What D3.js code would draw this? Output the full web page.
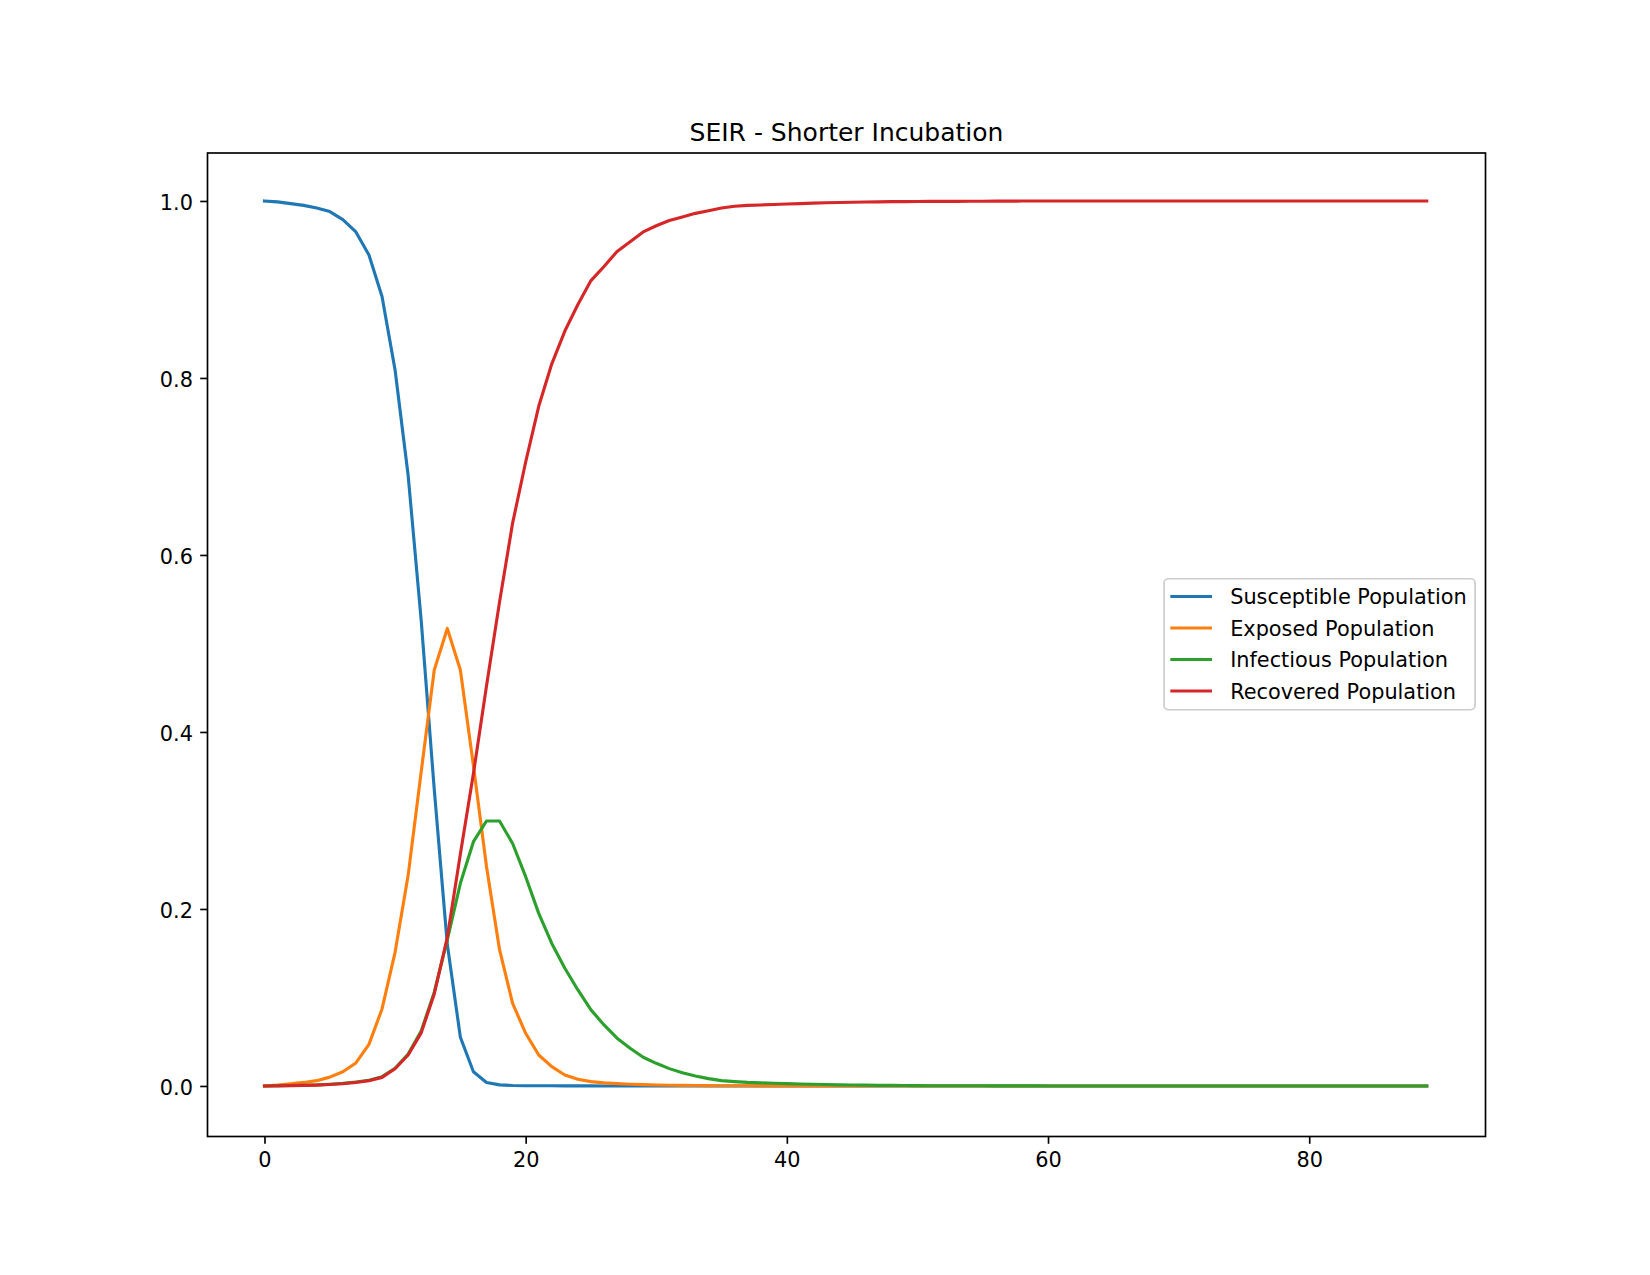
<!DOCTYPE html>
<html>
<head>
<meta charset="utf-8">
<script src="https://cdn.jsdelivr.net/npm/d3@7"></script>
<style>
body { margin: 0; background: #fff; }
svg { display: block; font-family: 'DejaVu Sans', sans-serif; }
</style>
</head>
<body>
<svg></svg>
<script>
let days = [
    0, 1, 2, 3, 4, 5, 6, 7, 8, 9, 10, 11, 12, 13, 14, 15, 16, 17, 18, 19,
    20, 21, 22, 23, 24, 25, 26, 27, 28, 29, 30, 31, 32, 33, 34, 35, 36, 37, 38, 39,
    40, 41, 42, 43, 44, 45, 46, 47, 48, 49, 50, 51, 52, 53, 54, 55, 56, 57, 58, 59,
    60, 61, 62, 63, 64, 65, 66, 67, 68, 69, 70, 71, 72, 73, 74, 75, 76, 77, 78, 79,
    80, 81, 82, 83, 84, 85, 86, 87, 88, 89
]

let susceptible = [
    1.0, 0.999, 0.997, 0.995, 0.992, 0.988, 0.979, 0.965, 0.939, 0.892,
    0.809, 0.690, 0.526, 0.335, 0.160, 0.055, 0.016, 0.004, 0.0012, 0.0005,
    0.0003, 0.0002, 0.0002, 0.0001, 0.0001, 0.0001, 0, 0, 0, 0,
    0, 0, 0, 0, 0, 0, 0, 0, 0, 0,
    0, 0, 0, 0, 0, 0, 0, 0, 0, 0,
    0, 0, 0, 0, 0, 0, 0, 0, 0, 0,
    0, 0, 0, 0, 0, 0, 0, 0, 0, 0,
    0, 0, 0, 0, 0, 0, 0, 0, 0, 0,
    0, 0, 0, 0, 0, 0, 0, 0, 0, 0
]

let exposed = [
    0, 0.001, 0.0025, 0.004, 0.006, 0.010, 0.016, 0.026, 0.047, 0.087,
    0.151, 0.238, 0.355, 0.470, 0.517, 0.470, 0.362, 0.248, 0.154, 0.0934,
    0.0595, 0.035, 0.0218, 0.0124, 0.0075, 0.0049, 0.0035, 0.0026, 0.002, 0.0015,
    0.0011, 0.0008, 0.0006, 0.0005, 0.0004, 0.0003, 0.0002, 0.0002, 0.0001, 0.0001,
    0.0001, 0, 0, 0, 0, 0, 0, 0, 0, 0,
    0, 0, 0, 0, 0, 0, 0, 0, 0, 0,
    0, 0, 0, 0, 0, 0, 0, 0, 0, 0,
    0, 0, 0, 0, 0, 0, 0, 0, 0, 0,
    0, 0, 0, 0, 0, 0, 0, 0, 0, 0
]

let infectious = [
    0, 0.0002, 0.0005, 0.0008, 0.0012, 0.002, 0.003, 0.0045, 0.0065, 0.0105,
    0.020, 0.036, 0.062, 0.106, 0.165, 0.229, 0.276, 0.2994, 0.2994, 0.274,
    0.2365, 0.195, 0.161, 0.133, 0.1085, 0.086, 0.069, 0.054, 0.0426, 0.0324,
    0.0256, 0.0196, 0.015, 0.0113, 0.0083, 0.006, 0.0049, 0.004, 0.0035, 0.003,
    0.0026, 0.0022, 0.0019, 0.0016, 0.0013, 0.0011, 0.0009, 0.0007, 0.0006, 0.0005,
    0.0004, 0.0003, 0.0003, 0.0002, 0.0002, 0.0002, 0.0001, 0.0001, 0.0001, 0.0001,
    0, 0, 0, 0, 0, 0, 0, 0, 0, 0,
    0, 0, 0, 0, 0, 0, 0, 0, 0, 0,
    0, 0, 0, 0, 0, 0, 0, 0, 0, 0
]

let recovered = [
    0, 0.0001, 0.0004, 0.0006, 0.001, 0.0017, 0.0025, 0.004, 0.006, 0.0097,
    0.0195, 0.035, 0.060, 0.104, 0.168, 0.262, 0.353, 0.452, 0.547, 0.636,
    0.705, 0.768, 0.816, 0.853, 0.883, 0.910, 0.926, 0.943, 0.954, 0.965,
    0.972, 0.978, 0.982, 0.986, 0.989, 0.992, 0.994, 0.995, 0.9955, 0.996,
    0.9966, 0.997, 0.9975, 0.998, 0.9983, 0.9986, 0.9988, 0.999, 0.9992, 0.9993,
    0.9994, 0.9995, 0.9996, 0.9996, 0.9997, 0.9997, 0.9998, 0.9998, 0.9999, 0.9999,
    1, 1, 1, 1, 1, 1, 1, 1, 1, 1,
    1, 1, 1, 1, 1, 1, 1, 1, 1, 1,
    1, 1, 1, 1, 1, 1, 1, 1, 1, 1
]

let seriesNames = [
    'Susceptible Population', 'Exposed Population',
    'Infectious Population', 'Recovered Population'
]
let seriesColors = ['#1f77b4', '#ff7f0e', '#2ca02c', '#d62728']
let xTicks = [0, 20, 40, 60, 80]
let yTicks = [0, 0.2, 0.4, 0.6, 0.8, 1.0]
let title = 'SEIR - Shorter Incubation'

let width = 1650
let height = 1275
// matplotlib-ish geometry at 150 dpi
let pt = 150 / 72
let fontSize = 10 * pt
let margin = { left: 207.5, top: 153, right: 1485.5, bottom: 1136.5 }

let svg = d3.select('svg')
    .attr('width', width)
    .attr('height', height)

let x = d3.scaleLinear()
    .domain([-4.364, 93.5])
    .range([margin.left, margin.right])
let y = d3.scaleLinear()
    .domain([-0.0571, 1.0542])
    .range([margin.bottom, margin.top])

let series = [susceptible, exposed, infectious, recovered].map((values, i) => ({
    name: seriesNames[i],
    color: seriesColors[i],
    points: days.map((d, j) => ({ day: d, value: values[j] }))
}))

let line = d3.line()
    .x(d => x(d.day))
    .y(d => y(d.value))

svg.append('g').selectAll('path')
    .data(series).enter()
    .append('path')
    .attr('fill', 'none')
    .attr('stroke', d => d.color)
    .attr('stroke-width', 1.5 * pt)
    .attr('stroke-linejoin', 'round')
    .attr('stroke-linecap', 'square')
    .attr('d', d => line(d.points))

// axes
let xAxis = svg.append('g')
    .attr('transform', `translate(0,${margin.bottom})`)
    .call(d3.axisBottom(x)
        .tickValues(xTicks)
        .tickSize(3.5 * pt)
        .tickPadding(3.5 * pt)
        .tickFormat(d3.format('d')))
let yAxis = svg.append('g')
    .attr('transform', `translate(${margin.left},0)`)
    .call(d3.axisLeft(y)
        .tickValues(yTicks)
        .tickSize(3.5 * pt)
        .tickPadding(3.5 * pt)
        .tickFormat(d3.format('.1f')))

;[xAxis, yAxis].forEach(a => {
    a.select('.domain').remove()
    a.selectAll('line').attr('stroke', '#000').attr('stroke-width', 0.8 * pt)
    a.selectAll('text')
        .attr('fill', '#000')
        .style('font-size', fontSize + 'px')
        .style('font-family', "'DejaVu Sans', sans-serif")
})
xAxis.selectAll('text').attr('dy', '0.76em')
yAxis.selectAll('text').attr('dy', '0.41em')

svg.append('rect')
    .attr('x', margin.left)
    .attr('y', margin.top)
    .attr('width', margin.right - margin.left)
    .attr('height', margin.bottom - margin.top)
    .attr('fill', 'none')
    .attr('stroke', '#000')
    .attr('stroke-width', 0.8 * pt)

svg.append('text')
    .attr('x', (margin.left + margin.right) / 2)
    .attr('y', margin.top - 6 * pt + 0.5)
    .attr('text-anchor', 'middle')
    .style('font-size', 12 * pt + 'px')
    .attr('fill', '#000')
    .text(title)

// legend, center right
let legend = svg.append('g')
let legendBox = legend.append('rect')
let rowGap = 31.5
let cy = (margin.top + margin.bottom) / 2
let firstRow = cy - 49.3
let labels = legend.selectAll('text')
    .data(series).enter()
    .append('text')
    .attr('y', (d, i) => firstRow + i * rowGap + 9)
    .style('font-size', fontSize + 'px')
    .attr('fill', '#000')
    .text(d => d.name)
let maxText = d3.max(labels.nodes(), n => n.getComputedTextLength())
let boxRight = margin.right - 0.5 * fontSize
let textX = boxRight - 0.4 * fontSize - maxText
let handleX = textX - 0.8 * fontSize - 2 * fontSize - 1.5
let boxLeft = handleX - 0.3 * fontSize
labels.attr('x', textX)
legend.selectAll('line')
    .data(series).enter()
    .append('line')
    .attr('x1', handleX)
    .attr('x2', handleX + 2 * fontSize)
    .attr('y1', (d, i) => firstRow + i * rowGap + 1)
    .attr('y2', (d, i) => firstRow + i * rowGap + 1)
    .attr('stroke', d => d.color)
    .attr('stroke-width', 1.5 * pt)
legendBox
    .attr('x', boxLeft)
    .attr('y', cy - 66)
    .attr('width', boxRight - boxLeft)
    .attr('height', 131)
    .attr('rx', 0.2 * fontSize)
    .attr('fill', 'rgba(255,255,255,0.8)')
    .attr('stroke', '#cccccc')
    .attr('stroke-width', 0.8 * pt)
</script>
</body>
</html>
